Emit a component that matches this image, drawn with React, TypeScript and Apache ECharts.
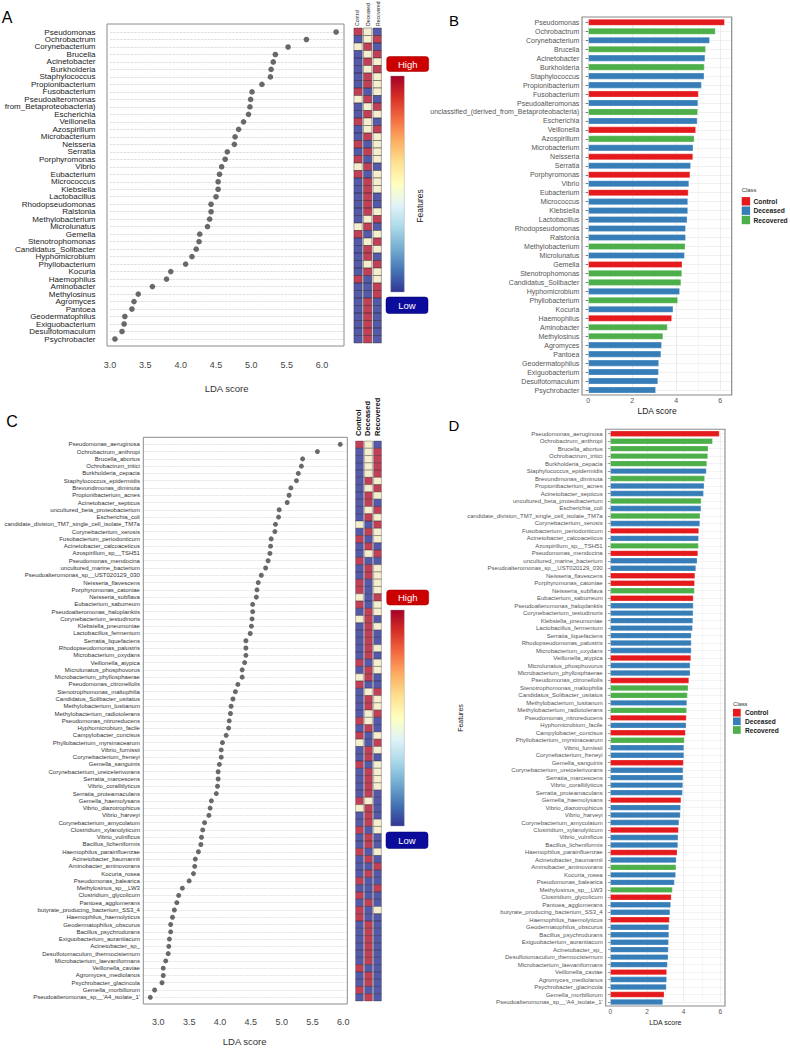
import React, { useEffect, useRef } from "react";
import * as echarts from "echarts";

// ---------------- DATA ----------------
const groups = ["Control", "Deceased", "Recovered"];
const classNames = ["Control", "Deceased", "Recovered"];

const genusNames = [
  "Pseudomonas", "Ochrobactrum", "Corynebacterium", "Brucella", "Acinetobacter",
  "Burkholderia", "Staphylococcus", "Propionibacterium", "Fusobacterium", "Pseudoalteromonas",
  "unclassified_(derived_from_Betaproteobacteria)", "Escherichia", "Veillonella", "Azospirillum", "Microbacterium",
  "Neisseria", "Serratia", "Porphyromonas", "Vibrio", "Eubacterium",
  "Micrococcus", "Klebsiella", "Lactobacillus", "Rhodopseudomonas", "Ralstonia",
  "Methylobacterium", "Microlunatus", "Gemella", "Stenotrophomonas", "Candidatus_Solibacter",
  "Hyphomicrobium", "Phyllobacterium", "Kocuria", "Haemophilus", "Aminobacter",
  "Methylosinus", "Agromyces", "Pantoea", "Geodermatophilus", "Exiguobacterium",
  "Desulfotomaculum", "Psychrobacter",
];
const genusLDA = [
  6.2, 5.78, 5.52, 5.34, 5.31, 5.28, 5.27, 5.15, 5.01, 4.99,
  4.98, 4.96, 4.89, 4.82, 4.77, 4.76, 4.66, 4.63, 4.58, 4.55,
  4.53, 4.53, 4.5, 4.43, 4.43, 4.41, 4.38, 4.27, 4.26, 4.22,
  4.16, 4.07, 3.86, 3.8, 3.6, 3.4, 3.34, 3.31, 3.21, 3.2,
  3.17, 3.07,
];
// C = Control, D = Deceased, R = Recovered
const genusClass = "C R D R D R D D C D R D C R D C D C D C D D D D D R D C R R D R D C R R D D D D D D".split(" ");
// heat codes per row for Control / Deceased / Recovered: R = high, C = middle, B = low
const genusHeat = [
  "RCB", "BCR", "CRB", "BCR", "BRC", "BCR", "BRC", "BRC", "RBC", "CRB",
  "BCR", "BRC", "RCB", "BCR", "BRC", "RBC", "BRC", "RBC", "CRB", "RBC",
  "BRC", "BRC", "BRB", "BRB", "BRC", "BCR", "CRB", "RBC", "BCR", "BRC",
  "BRB", "BCR", "BRC", "RBC", "BBR", "BBR", "BRB", "BRB", "BRB", "BRB",
  "BRB", "BRB",
];

const speciesNames = [
  "Pseudomonas_aeruginosa", "Ochrobactrum_anthropi", "Brucella_abortus", "Ochrobactrum_tritici",
  "Burkholderia_cepacia", "Staphylococcus_epidermidis", "Brevundimonas_diminuta", "Propionibacterium_acnes",
  "Acinetobacter_septicus", "uncultured_beta_proteobacterium", "Escherichia_coli",
  "candidate_division_TM7_single_cell_isolate_TM7a", "Corynebacterium_xerosis", "Fusobacterium_periodonticum",
  "Acinetobacter_calcoaceticus", "Azospirillum_sp__TSH51", "Pseudomonas_mendocina", "uncultured_marine_bacterium",
  "Pseudoalteromonas_sp__UST020129_030", "Neisseria_flavescens", "Porphyromonas_catoniae", "Neisseria_subflava",
  "Eubacterium_saburreum", "Pseudoalteromonas_haloplanktis", "Corynebacterium_testudinoris", "Klebsiella_pneumoniae",
  "Lactobacillus_fermentum", "Serratia_liquefaciens", "Rhodopseudomonas_palustris", "Microbacterium_oxydans",
  "Veillonella_atypica", "Microlunatus_phosphovorus", "Microbacterium_phyllosphaerae", "Pseudomonas_citronellolis",
  "Stenotrophomonas_maltophilia", "Candidatus_Solibacter_usitatus", "Methylobacterium_lusitanum",
  "Methylobacterium_radiotolerans", "Pseudomonas_nitroreducens", "Hyphomicrobium_facile", "Campylobacter_concisus",
  "Phyllobacterium_myrsinacearum", "Vibrio_furnissii", "Corynebacterium_freneyi", "Gemella_sanguinis",
  "Corynebacterium_ureicelerivorans", "Serratia_marcescens", "Vibrio_coralliilyticus", "Serratia_proteamaculans",
  "Gemella_haemolysans", "Vibrio_diazotrophicus", "Vibrio_harveyi", "Corynebacterium_amycolatum",
  "Clostridium_xylanolyticum", "Vibrio_vulnificus", "Bacillus_licheniformis", "Haemophilus_parainfluenzae",
  "Acinetobacter_baumannii", "Aminobacter_aminovorans", "Kocuria_rosea", "Pseudomonas_balearica",
  "Methylosinus_sp__LW3", "Clostridium_glycolicum", "Pantoea_agglomerans", "butyrate_producing_bacterium_SS3_4",
  "Haemophilus_haemolyticus", "Geodermatophilus_obscurus", "Bacillus_psychrodurans", "Exiguobacterium_aurantiacum",
  "Acinetobacter_sp_", "Desulfotomaculum_thermocisternum", "Microbacterium_laevaniformans", "Veillonella_caviae",
  "Agromyces_mediolanus", "Psychrobacter_glacincola", "Gemella_morbillorum", "Pseudoalteromonas_sp__'A4_isolate_1'",
];
const speciesLDA = [
  5.95, 5.58, 5.34, 5.32, 5.27, 5.24, 5.15, 5.12, 5.09, 4.96,
  4.95, 4.9, 4.89, 4.83, 4.82, 4.81, 4.78, 4.74, 4.67, 4.62,
  4.6, 4.59, 4.53, 4.53, 4.52, 4.51, 4.49, 4.42, 4.42, 4.42,
  4.4, 4.36, 4.36, 4.29, 4.25, 4.21, 4.18, 4.17, 4.15, 4.14,
  4.1, 4.04, 4.02, 4.02, 3.99, 3.97, 3.97, 3.96, 3.94, 3.86,
  3.84, 3.82, 3.75, 3.72, 3.7, 3.69, 3.65, 3.6, 3.59, 3.57,
  3.5, 3.39, 3.33, 3.3, 3.26, 3.23, 3.2, 3.2, 3.18, 3.17,
  3.16, 3.12, 3.08, 3.08, 3.06, 2.94, 2.87,
];
const speciesClass = (
  "C R R R R D R D D R D R D C D R C D D C C R C D D D D D D D " +
  "C D D C R R D R C D C R D D C D D D D C D D D C D D C D R D " +
  "D R C D D C D D D D D D C D D C D"
).split(" ");
const speciesHeat = [
  "RCB", "BCR", "BCR", "BCR", "BCR", "BRC", "BCR", "BRC", "BRB", "BCR",
  "BRC", "CBR", "BRC", "RBC", "BRB", "BCR", "RBB", "BRC", "BRC", "RBC",
  "RBC", "CBR", "RBC", "BRC", "CRB", "BRC", "BRB", "BRB", "BRC", "BRB",
  "RBC", "BRC", "CRB", "RBB", "BCR", "BRC", "BRC", "BCR", "RCB", "BRB",
  "RBC", "CBR", "BRC", "BRB", "RBC", "BRC", "BRC", "BRC", "BRB", "RCB",
  "CRB", "BRB", "BRC", "RBC", "BRB", "BRB", "RBC", "BRB", "BBR", "BRB",
  "RBB", "BBR", "RBB", "BRB", "RBC", "RBB", "BRB", "BRB", "BRB", "BRB",
  "BRB", "BRB", "RBB", "BRB", "BRB", "RBB", "BRB",
];

// ---------------- STYLE ----------------
const FONT = "'Liberation Sans', Arial, Helvetica, sans-serif";
const HEAT_LEVEL: Record<string, number> = { B: 0, C: 1, R: 2 };
const heatColors = ["#2b2f93", "#f2eac3", "#b1102d"];
const classColor: Record<string, string> = { C: "#e41a1c", D: "#377eb8", R: "#4daf4a" };
const T = "rgba(0,0,0,0)";

const heatData = (rows: string[]) => {
  const out: number[][] = [];
  rows.forEach((code, i) => {
    for (let j = 0; j < 3; j++) out.push([j, i, HEAT_LEVEL[code[j]]]);
  });
  return out;
};

const halfLabel = (lo: number, hi: number) => (v: number) =>
  Math.abs(v * 2 - Math.round(v * 2)) < 1e-6 && v >= lo - 1e-6 && v <= hi + 1e-6 ? v.toFixed(1) : "";
const evenLabel = (hi: number) => (v: number) =>
  Math.abs(v / 2 - Math.round(v / 2)) < 1e-6 && v >= -1e-6 && v <= hi + 1e-6 ? String(Math.round(v)) : "";

const txt = (text: string, x: number, y: number, size: number, o: any = {}) => ({
  type: "text",
  x,
  y,
  rotation: o.rot || 0,
  z: 120,
  silent: true,
  style: {
    text,
    fill: o.color || "#222",
    fontSize: size,
    fontFamily: o.family || FONT,
    fontWeight: o.weight || "normal",
    textAlign: o.align || "center",
    align: o.align || "center",
    textVerticalAlign: o.va || "middle",
    verticalAlign: o.va || "middle",
  },
});
const rect = (x: number, y: number, w: number, h: number, style: any, r = 0) => ({
  type: "rect",
  z: 110,
  silent: true,
  shape: { x, y, width: w, height: h, r },
  style,
});
const frame = (x: number, y: number, w: number, h: number, color: string, lw: number) =>
  rect(x, y, w, h, { fill: "none", stroke: color, lineWidth: lw });

const colorbar = (top: number, hiY: number, loY: number, bottom: number) => [
  rect(386.7, hiY, 42, 15, { fill: "#cc0000", stroke: "#a00000", lineWidth: 0.5 }, 3),
  txt("High", 407.7, hiY + 7.5, 9.5, { color: "#ffffff" }),
  rect(390.7, top, 13.6, bottom - top, {
    fill: new echarts.graphic.LinearGradient(0, 0, 0, 1, [
      { offset: 0, color: "#a50026" },
      { offset: 0.1, color: "#d73027" },
      { offset: 0.2, color: "#f46d43" },
      { offset: 0.3, color: "#fdae61" },
      { offset: 0.4, color: "#fee090" },
      { offset: 0.5, color: "#ffffbf" },
      { offset: 0.6, color: "#e0f3f8" },
      { offset: 0.7, color: "#abd9e9" },
      { offset: 0.8, color: "#74add1" },
      { offset: 0.9, color: "#4575b4" },
      { offset: 1, color: "#313695" },
    ]),
    stroke: "#9a9a9a",
    lineWidth: 0.4,
  }),
  rect(386, loY, 42, 16.5, { fill: "#0b0b9c", stroke: "#00006a", lineWidth: 0.5 }, 3),
  txt("Low", 407, loY + 8.3, 9.5, { color: "#ffffff" }),
];

const legend = (x: number, titleY: number, ys: number[], sq: number, size: number, textX: number) => [
  txt("Class", x, titleY, size - 0.8, { align: "left", color: "#333" }),
  ...ys.flatMap((y, i) => [
    rect(x, y - sq / 2, sq, sq, { fill: classColor["CDR"[i]] }),
    txt(classNames[i], textX, y, size, { align: "left", weight: "bold", color: "#1a1a1a" }),
  ]),
];

function buildOption() {
  const catY = (gridIndex: number, data: string[], extra: any) => ({
    type: "category",
    gridIndex,
    data,
    inverse: true,
    ...extra,
  });
  const hidden = (gridIndex: number, data: string[], inverse = false) => ({
    type: "category",
    gridIndex,
    data,
    inverse,
    show: false,
  });

  return {
    animation: false,
    backgroundColor: "#ffffff",
    textStyle: { fontFamily: FONT },
    grid: [
      { left: 110, top: 32, width: 233.2, height: 307, outerBoundsMode: "none" },
      { left: 353.3, top: 28, width: 28.7, height: 315, outerBoundsMode: "none" },
      { left: 582.8, top: 22.3, width: 148.5, height: 367.7, outerBoundsMode: "none" },
      { left: 142.9, top: 444.3, width: 203.5, height: 553, outerBoundsMode: "none" },
      { left: 355, top: 441, width: 27, height: 560, outerBoundsMode: "none" },
      { left: 605.7, top: 433.7, width: 119.2, height: 568.3, outerBoundsMode: "none" },
    ],
    xAxis: [
      {
        type: "value", gridIndex: 0, min: 3, max: 6.3, interval: 0.5,
        axisLine: { show: false }, axisTick: { show: false }, splitLine: { show: false },
        axisLabel: { formatter: halfLabel(3, 6), fontSize: 9, color: "#444", margin: 21.5 },
        name: "LDA score", nameLocation: "middle", nameGap: 44,
        nameTextStyle: { fontSize: 9.5, color: "#333" },
      },
      hidden(1, groups),
      {
        type: "value", gridIndex: 2, min: -0.25, max: 6.5, interval: 0.25,
        axisLine: { show: false }, axisTick: { show: false },
        splitLine: { show: true, lineStyle: { color: [T, "#e2e2e2", T, T, T, "#f0f0f0", T, T], width: 0.7 } },
        axisLabel: { formatter: evenLabel(6), fontSize: 7, color: "#555", margin: 7.2 },
        name: "LDA score", nameLocation: "middle", nameGap: 16.5,
        nameTextStyle: { fontSize: 8.5, color: "#222" },
      },
      {
        type: "value", gridIndex: 3, min: 2.75, max: 6.05, interval: 0.25,
        axisLine: { show: false }, axisTick: { show: false }, splitLine: { show: false },
        axisLabel: { formatter: halfLabel(3, 6), fontSize: 9, color: "#444", margin: 20 },
        name: "LDA score", nameLocation: "middle", nameGap: 39,
        nameTextStyle: { fontSize: 9.5, color: "#333" },
      },
      hidden(4, groups),
      {
        type: "value", gridIndex: 5, min: -0.25, max: 6.25, interval: 0.25,
        axisLine: { show: false }, axisTick: { show: false },
        splitLine: { show: true, lineStyle: { color: [T, "#e2e2e2", T, T, T, "#f0f0f0", T, T], width: 0.6 } },
        axisLabel: { formatter: evenLabel(6), fontSize: 6.5, color: "#555", margin: 5.5 },
        name: "LDA score", nameLocation: "middle", nameGap: 13,
        nameTextStyle: { fontSize: 7, color: "#222" },
      },
    ],
    yAxis: [
      catY(0, genusNames, {
        boundaryGap: false,
        axisLine: { show: false }, axisTick: { show: false },
        axisLabel: {
          interval: 0, fontSize: 8, color: "#222", margin: 14.5,
          formatter: (v: string) => (v.indexOf("derived_") >= 0 ? v.split("derived_")[1] : v),
        },
        splitLine: { show: true, interval: 0, lineStyle: { type: "dotted", color: "#bdbdbd", width: 0.7 } },
      }),
      hidden(1, genusNames, true),
      catY(2, genusNames, {
        boundaryGap: false,
        axisLine: { show: false },
        axisTick: { show: true, interval: 0, length: 2.5, lineStyle: { color: "#444", width: 0.7 } },
        axisLabel: { interval: 0, fontSize: 7, color: "#555", margin: 3.5 },
        splitLine: { show: true, interval: 0, lineStyle: { color: "#e6e6e6", width: 0.6 } },
      }),
      catY(3, speciesNames, {
        boundaryGap: false,
        axisLine: { show: false }, axisTick: { show: false },
        axisLabel: { interval: 0, fontSize: 6, color: "#333", margin: 3 },
        splitLine: { show: true, interval: 0, lineStyle: { type: "dotted", color: "#c4c4c4", width: 0.6 } },
      }),
      hidden(4, speciesNames, true),
      catY(5, speciesNames, {
        boundaryGap: false,
        axisLine: { show: false },
        axisTick: { show: true, interval: 0, length: 2, lineStyle: { color: "#444", width: 0.6 } },
        axisLabel: { interval: 0, fontSize: 6, color: "#555", margin: 3 },
        splitLine: { show: true, interval: 0, lineStyle: { color: "#e6e6e6", width: 0.5 } },
      }),
    ],
    series: [
      {
        type: "scatter", xAxisIndex: 0, yAxisIndex: 0,
        data: genusNames.map((n, i) => [genusLDA[i], n]),
        symbolSize: 5.6, itemStyle: { color: "#454545" },
      },
      {
        type: "scatter", xAxisIndex: 1, yAxisIndex: 1, symbol: "rect", symbolSize: [8.3, 7.5],
        data: heatData(genusHeat),
        itemStyle: { color: (p: any) => heatColors[p.value[2]], borderColor: "#2a2a2a", borderWidth: 0.5 },
      },
      {
        type: "bar", xAxisIndex: 2, yAxisIndex: 2, clip: false, barWidth: 6.6,
        data: genusLDA.map((v, i) => ({
          value: v,
          itemStyle: { color: classColor[genusClass[i]], borderColor: "rgba(255,255,255,0.6)", borderWidth: 0.5 },
        })),
      },
      {
        type: "scatter", xAxisIndex: 3, yAxisIndex: 3,
        data: speciesNames.map((n, i) => [speciesLDA[i], n]),
        symbolSize: 5, itemStyle: { color: "#454545" },
      },
      {
        type: "scatter", xAxisIndex: 4, yAxisIndex: 4, symbol: "rect", symbolSize: [7.8, 7.27],
        data: heatData(speciesHeat),
        itemStyle: { color: (p: any) => heatColors[p.value[2]], borderColor: "#2a2a2a", borderWidth: 0.4 },
      },
      {
        type: "bar", xAxisIndex: 5, yAxisIndex: 5, clip: false, barWidth: 5.8,
        data: speciesLDA.map((v, i) => ({
          value: v,
          itemStyle: { color: classColor[speciesClass[i]], borderColor: "rgba(255,255,255,0.6)", borderWidth: 0.4 },
        })),
      },
    ],
    graphic: {
      elements: [
        frame(107, 24, 237, 322, "#8c8c8c", 1),
        frame(582, 17, 149.7, 378, "#8a8a8a", 1.2),
        frame(143.3, 437.3, 204, 566.7, "#8c8c8c", 1),
        frame(605.7, 429.3, 119.3, 576.7, "#8a8a8a", 1.1),
        ...colorbar(76, 56.5, 297, 292),
        ...colorbar(610, 590, 832, 826),
        // heatmap column headers
        txt(groups[0], 357.3, 26, 5.1, { rot: Math.PI / 2, align: "left" }),
        txt(groups[1], 367.7, 26, 5.1, { rot: Math.PI / 2, align: "left" }),
        txt(groups[2], 377.7, 26, 5.1, { rot: Math.PI / 2, align: "left" }),
        txt(groups[0], 358.8, 436, 7.5, { rot: Math.PI / 2, align: "left", weight: "bold", color: "#111" }),
        txt(groups[1], 367.8, 436, 7.5, { rot: Math.PI / 2, align: "left", weight: "bold", color: "#111" }),
        txt(groups[2], 377.5, 436, 7.5, { rot: Math.PI / 2, align: "left", weight: "bold", color: "#111" }),
        // panel letters
        txt("A", 7.2, 17.5, 16, { color: "#000" }),
        txt("B", 454, 20.5, 15, { color: "#000" }),
        txt("C", 12, 421, 16, { color: "#000" }),
        txt("D", 454, 425, 15, { color: "#000" }),
        // y titles
        txt("Features", 420, 206, 8.5, { rot: Math.PI / 2, color: "#222" }),
        txt("Features", 460, 718, 7, { rot: Math.PI / 2, color: "#222" }),
        // legends
        ...legend(741.7, 189.5, [201.3, 210.7, 220], 8.4, 6.7, 753.5),
        ...legend(733, 704, [712.7, 721.3, 730], 7.7, 6.6, 745),
      ],
    },
  };
}

export default function App() {
  const ref = useRef<HTMLDivElement>(null);
  useEffect(() => {
    document.body.style.margin = "0";
    const chart = echarts.init(ref.current as HTMLDivElement, null, { renderer: "svg" });
    chart.setOption(buildOption() as any);
    return () => chart.dispose();
  }, []);
  return <div ref={ref} style={{ width: 790, height: 1049, background: "#ffffff" }} />;
}
